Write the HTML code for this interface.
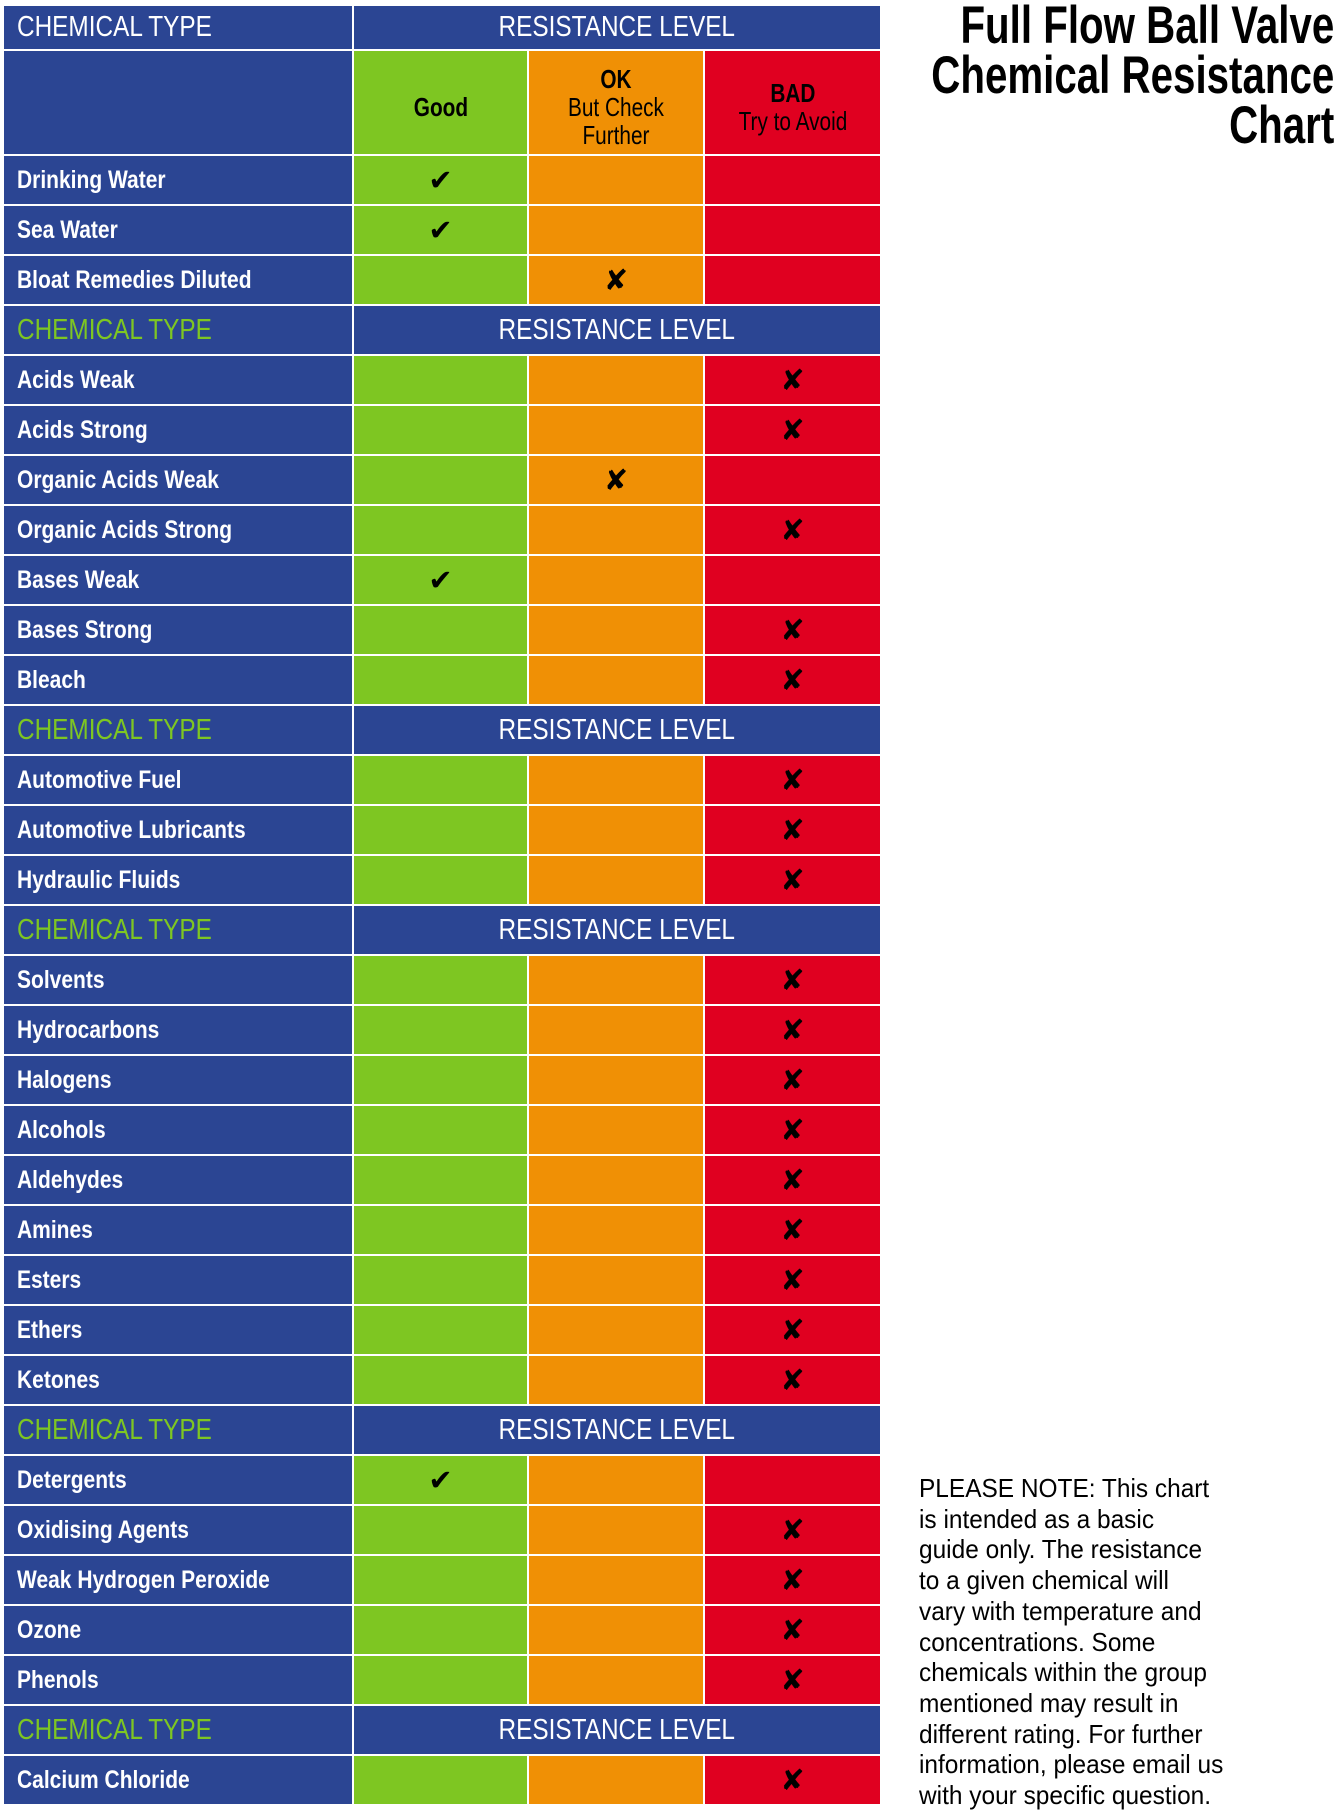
<!DOCTYPE html>
<html><head><meta charset="utf-8"><style>
body{margin:0;width:1337px;height:1818px;background:#fff;position:relative;overflow:hidden;font-family:"Liberation Sans",sans-serif}
.c{position:absolute;box-sizing:border-box;display:flex;align-items:center}
.lbl{color:#fff;font-weight:bold;font-size:25px;padding-left:13px}
.lbl span{display:inline-block;transform:scaleX(0.84);transform-origin:left center;white-space:nowrap}
.ctr{justify-content:center}
.ctr span{transform-origin:center center}
.mk{justify-content:center;font-size:29px;color:#000;font-family:"DejaVu Sans",sans-serif}
#title{position:absolute;right:3px;top:1px;text-align:right;font-weight:bold;font-size:53px;line-height:50px;color:#000;transform:scaleX(0.76);transform-origin:right top;white-space:nowrap}
#note{position:absolute;left:919px;top:1473px;font-size:26px;line-height:30.7px;color:#000;transform:scaleX(0.94);transform-origin:left top;white-space:nowrap}
</style></head><body>
<div id="title">Full Flow Ball Valve<br>Chemical Resistance<br>Chart</div>
<div id="note">PLEASE NOTE: This chart<br>is intended as a basic<br>guide only. The resistance<br>to a given chemical will<br>vary with temperature and<br>concentrations. Some<br>chemicals within the group<br>mentioned may result in<br>different rating. For further<br>information, please email us<br>with your specific question.</div>
<div id="tbl"></div>
<script>
// -1 = section header; 0 good, 1 ok, 2 bad
const labels=["Drinking Water","Sea Water","Bloat Remedies Diluted","H","Acids Weak","Acids Strong","Organic Acids Weak","Organic Acids Strong","Bases Weak","Bases Strong","Bleach","H","Automotive Fuel","Automotive Lubricants","Hydraulic Fluids","H","Solvents","Hydrocarbons","Halogens","Alcohols","Aldehydes","Amines","Esters","Ethers","Ketones","H","Detergents","Oxidising Agents","Weak Hydrogen Peroxide","Ozone","Phenols","H","Calcium Chloride"];
const ratings=[0,0,1,-1,2,2,1,2,0,2,2,-1,2,2,2,-1,2,2,2,2,2,2,2,2,2,-1,0,2,2,2,2,-1,2];
const BLUE="#2b4593",COLS=["#7ec622","#f09005","#e00020"];
const xs=[4,354,529,705,880];
const t=document.getElementById('tbl');
function cell(x,y,w,h,bg,html,cls,name){
  const d=document.createElement('div');d.className='c '+(cls||'');
  d.style.cssText=`left:${x}px;top:${y}px;width:${w}px;height:${h}px;background:${bg}`;
  d.innerHTML=html||'';
  
  
  t.appendChild(d);return d;
}
function header(y,h,first){
  const a=cell(xs[0],y,xs[1]-xs[0]-2,h,BLUE,'<span>CHEMICAL TYPE</span>','lbl','chemical-type-header');
  a.style.fontWeight='normal';a.style.fontSize='29px';a.style.color=first?'#fff':'#7ec622';
  const b=cell(xs[1],y,xs[4]-xs[1],h,BLUE,'<span>RESISTANCE LEVEL</span>','lbl ctr','resistance-level-header');
  b.style.padding='0';b.style.fontWeight='normal';b.style.fontSize='29px';
}
header(6,43,true);
cell(xs[0],51,xs[1]-xs[0]-2,103,BLUE,'','','blank-header-cell');
const heads=['<b>Good</b>','<b>OK</b><br>But Check<br>Further','<b>BAD</b><br>Try to Avoid'];
for(let j=0;j<3;j++){const d=cell(xs[j+1],51,xs[j+2]-xs[j+1]-(j<2?2:0),103,COLS[j],'<div style="transform:scaleX(0.8);white-space:nowrap">'+heads[j]+'</div>','','level-heading-'+j);
 d.style.justifyContent='center';d.style.textAlign='center';d.style.fontSize='26px';d.style.lineHeight='28px';d.style.paddingTop='8px';}
labels.forEach((l,i)=>{
  const y=156+i*50,h=48;
  if(ratings[i]<0){header(y,h,false);return;}
  cell(xs[0],y,xs[1]-xs[0]-2,h,BLUE,'<span>'+l+'</span>','lbl','row-label');
  for(let j=0;j<3;j++){
    const m=ratings[i]===j?(j===0?'✔':'✘'):'';
    cell(xs[j+1],y,xs[j+2]-xs[j+1]-(j<2?2:0),h,COLS[j],m,'mk','rating-cell');
  }
});
</script>
</body></html>
